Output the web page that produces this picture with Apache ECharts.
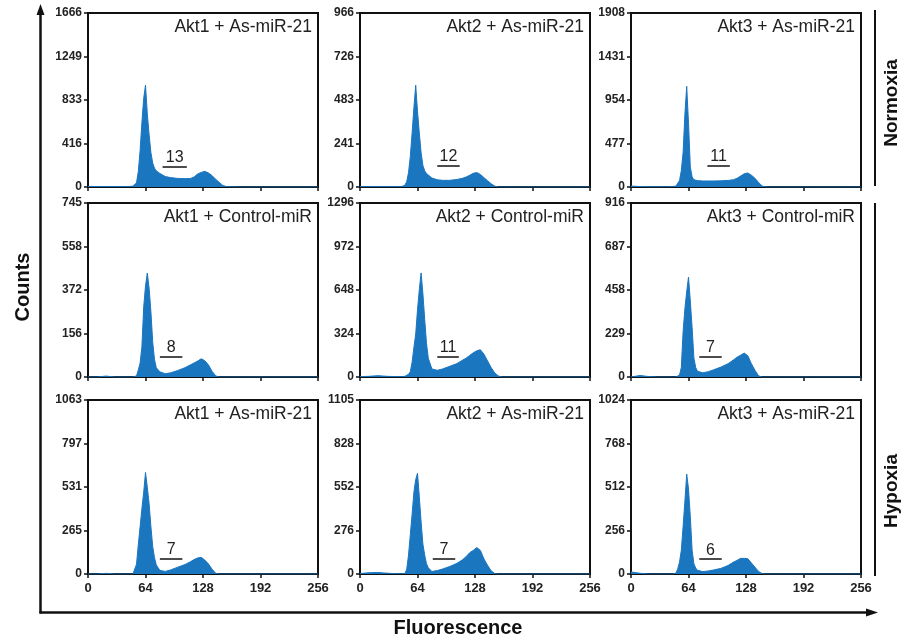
<!DOCTYPE html>
<html>
<head>
<meta charset="utf-8">
<script src="https://cdn.jsdelivr.net/npm/echarts@6/dist/echarts.min.js"></script>
<style>
html,body{margin:0;padding:0;background:#fff;}
#chart{width:903px;height:643px;}
</style>
</head>
<body>
<div id="chart"></div>
<script>
// Fluorescence bin positions (shared by all panels)
const fluorescence = [0, 10, 20, 30, 40, 46, 50, 52, 54, 56, 58, 60, 62, 64, 66, 68, 70, 72, 74, 76, 80, 86, 92, 100, 108, 114, 118, 122, 126, 130, 134, 138, 142, 146, 150, 154, 158, 170, 200, 256];

// Counts per panel (row-major: Normoxia row, Hypoxia Control row, Hypoxia As row)
const akt1AsNormoxia   = [5,5,5,5,5,5, 8,15,40,150, 350,620,850,975, 700,500,330,230, 180,155,130,100, 90,82,80,82, 95,125,140,150, 135,110,75,45, 15,4,2,0, 0,0];
const akt2AsNormoxia   = [2,2,2,2,2,2, 10,30,80,170, 300,440,565,420, 300,190,120,90, 75,65,50,40, 37,37,42,48, 55,65,76,80, 70,52,35,18, 5,0,0,0, 0,0];
const akt3AsNormoxia   = [10,5,3,3,3,5, 10,25,70,180, 380,800,1104,700, 220,110,80,72, 70,68,66,66, 66,68,72,80, 95,120,145,154, 130,95,50,10, 2,0,0,0, 0,0];
const akt1ControlHyp   = [0,0,4,0,0,0, 0,2,5,30, 60,130,300,390, 445,380,280,150, 75,40,22,14, 18,28,40,52, 60,68,78,70, 52,25,5,0, 0,0,0,0, 0,0];
const akt2ControlHyp   = [3,5,10,5,3,3, 5,10,20,40, 110,220,320,500, 650,775,620,430, 250,140,60,50, 60,80,100,125, 140,160,180,195, 203,170,120,70, 30,8,0,0, 0,0];
const akt3ControlHyp   = [0,8,2,0,0,0, 0,2,10,50, 240,360,450,526, 400,260,100,50, 30,24,22,28, 38,52,70,90, 104,115,126,112, 70,35,6,0, 0,0,0,0, 0,0];
const akt1AsHyp        = [0,0,4,0,0,0, 0,2,60,180, 290,400,500,620, 530,430,290,167, 100,55,22,16, 25,42,58,75, 88,98,102,85, 62,30,5,0, 0,0,0,0, 0,0];
const akt2AsHyp        = [3,8,10,5,2,2, 3,30,120,250, 380,520,600,640, 490,330,190,120, 65,40,16,22, 32,48,68,90, 110,135,150,168, 150,95,55,20, 3,0,0,0, 0,0];
const akt3AsHyp        = [12,4,0,0,0,0, 5,30,70,140, 280,430,588,500, 337,140,60,35, 22,16,14,18, 24,33,50,70, 80,92,92,90, 65,40,15,2, 0,0,0,0, 0,0];

const panelCounts = [akt1AsNormoxia, akt2AsNormoxia, akt3AsNormoxia, akt1ControlHyp, akt2ControlHyp, akt3ControlHyp, akt1AsHyp, akt2AsHyp, akt3AsHyp];

const panelTitles = ['Akt1 + As-miR-21', 'Akt2 + As-miR-21', 'Akt3 + As-miR-21',
                     'Akt1 + Control-miR', 'Akt2 + Control-miR', 'Akt3 + Control-miR',
                     'Akt1 + As-miR-21', 'Akt2 + As-miR-21', 'Akt3 + As-miR-21'];

const yMax = [1666, 966, 1908, 745, 1296, 916, 1063, 1105, 1024];
const yTickLabels = [
  ['0','416','833','1249','1666'],
  ['0','241','483','726','966'],
  ['0','477','954','1431','1908'],
  ['0','156','372','558','745'],
  ['0','324','648','972','1296'],
  ['0','229','458','687','916'],
  ['0','265','531','797','1063'],
  ['0','276','552','828','1105'],
  ['0','256','512','768','1024']
];
const xTickLabels = ['0','64','128','192','256'];

// S-phase gate percentages and gate extents
const sPhasePercent = ['13','12','11','8','11','7','7','7','6'];
const sPhaseGateX = [[83,110],[86,111],[85,110],[80,105],[86,110],[76,101],[80,105],[81,106],[76,101]];
const sPhaseGateY = [198, 117, 230, 88, 153, 108, 92, 95, 87];

// layout
const colLeft = [88, 360, 631];
const rowTop = [13, 203, 400];
const PW = 230, PH = 174;
const BLUE = '#1b76c0';

const grids = [], xAxes = [], yAxes = [], series = [], titles = [];
for (let i = 0; i < 9; i++) {
  const r = Math.floor(i / 3), c = i % 3;
  const left = colLeft[c], top = rowTop[r];
  grids.push({left: left, top: top, width: PW, height: PH, show: true, borderColor: '#111', borderWidth: 2, backgroundColor: '#fff'});
  xAxes.push({
    type: 'value', gridIndex: i, min: 0, max: 256, interval: 64,
    axisLine: {show: true, lineStyle: {color: '#111', width: 2}},
    axisTick: {show: true, length: 4, lineStyle: {color: '#111', width: 1.5}},
    axisLabel: {show: r === 2, margin: 8, fontFamily: 'Liberation Sans, Arial', fontWeight: 'bold', fontSize: 13, color: '#222',
      formatter: function (v) { return xTickLabels[Math.round(v / 64)]; }},
    splitLine: {show: false}
  });
  const labels = yTickLabels[i], mx = yMax[i];
  yAxes.push({
    type: 'value', gridIndex: i, min: 0, max: mx, interval: mx / 4,
    axisLine: {show: true, lineStyle: {color: '#111', width: 2}},
    axisTick: {show: true, length: 4, lineStyle: {color: '#111', width: 1.5}},
    axisLabel: {show: true, margin: 6, fontFamily: 'Liberation Sans, Arial', fontWeight: 'bold', fontSize: 12, color: '#222',
      formatter: function (v) { return labels[Math.round(v / (mx / 4))]; }},
    splitLine: {show: false}
  });
  const counts = panelCounts[i];
  const gx = sPhaseGateX[i], gy = sPhaseGateY[i];
  series.push({
    type: 'line', xAxisIndex: i, yAxisIndex: i, symbol: 'none', smooth: false, silent: true,
    lineStyle: {color: BLUE, width: 1},
    areaStyle: {color: BLUE, opacity: 1},
    data: fluorescence.map((f, k) => [f, counts[k]]),
    markLine: {
      silent: true, symbol: ['none', 'none'], animation: false,
      lineStyle: {color: '#111', width: 1.5, type: 'solid'},
      label: {show: true, position: 'insideMiddleTop', distance: 1, formatter: sPhasePercent[i],
        fontFamily: 'Liberation Sans, Arial', fontSize: 16, color: '#222'},
      data: [[{coord: [gx[0], gy]}, {coord: [gx[1], gy]}]]
    }
  });
  titles.push({
    text: panelTitles[i], right: 903 - (left + PW) + 6, top: top + 5, padding: 0,
    textStyle: {fontFamily: 'Liberation Sans, Arial', fontSize: 17.5, fontWeight: 'normal', color: '#222'}
  });
}

const boldFont = 'bold 19px "Liberation Sans", Arial';
const graphic = [
  // big L-shaped axes with arrows
  {type: 'line', shape: {x1: 40.5, y1: 12, x2: 40.5, y2: 613.5}, style: {stroke: '#111', lineWidth: 2.5}},
  {type: 'polygon', shape: {points: [[36.5, 15], [44.5, 15], [40.5, 4]]}, style: {fill: '#111'}},
  {type: 'line', shape: {x1: 39.5, y1: 612.5, x2: 868, y2: 612.5}, style: {stroke: '#111', lineWidth: 2.5}},
  {type: 'polygon', shape: {points: [[866, 608.5], [866, 616.5], [878, 612.5]]}, style: {fill: '#111'}},
  // condition brackets
  {type: 'line', shape: {x1: 875, y1: 10, x2: 875, y2: 186}, style: {stroke: '#111', lineWidth: 2}},
  {type: 'line', shape: {x1: 875, y1: 203, x2: 875, y2: 576}, style: {stroke: '#111', lineWidth: 2}},
  {type: 'text', x: 23, y: 287, rotation: Math.PI / 2, style: {text: 'Counts', font: 'bold 20px "Liberation Sans", Arial', fill: '#111', textAlign: 'center', textVerticalAlign: 'middle'}},
  {type: 'text', x: 458, y: 628, style: {text: 'Fluorescence', font: 'bold 20px "Liberation Sans", Arial', fill: '#111', textAlign: 'center', textVerticalAlign: 'middle'}},
  {type: 'text', x: 892, y: 103, rotation: Math.PI / 2, style: {text: 'Normoxia', font: boldFont, fill: '#111', textAlign: 'center', textVerticalAlign: 'middle'}},
  {type: 'text', x: 892, y: 491, rotation: Math.PI / 2, style: {text: 'Hypoxia', font: boldFont, fill: '#111', textAlign: 'center', textVerticalAlign: 'middle'}}
];

const chart = echarts.init(document.getElementById('chart'), null, {renderer: 'canvas'});
chart.setOption({
  animation: false,
  backgroundColor: '#fff',
  title: titles,
  grid: grids,
  xAxis: xAxes,
  yAxis: yAxes,
  series: series,
  graphic: graphic
});
</script>
</body>
</html>
